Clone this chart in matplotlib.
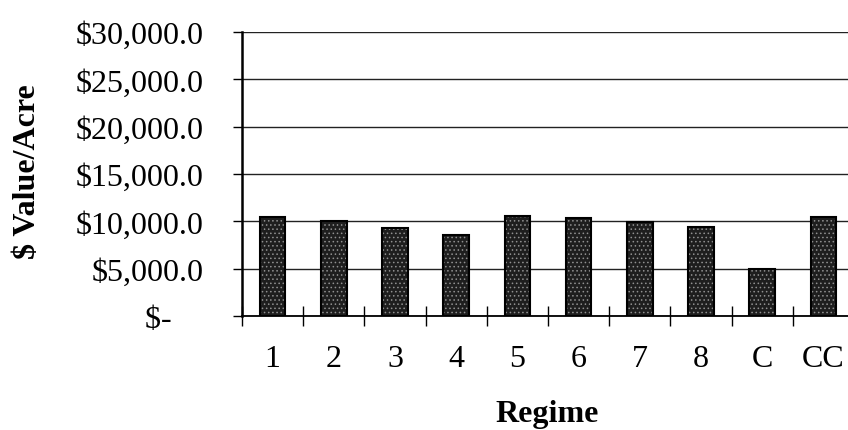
import matplotlib
matplotlib.use("Agg")
import matplotlib.pyplot as plt
import numpy as np

plt.rcParams['font.family'] = ['Liberation Serif', 'DejaVu Serif']
plt.rcParams['text.parse_math'] = False
plt.rcParams['hatch.linewidth'] = 0.6

# data
regimes = ["1", "2", "3", "4", "5", "6", "7", "8", "C", "CC"]
value_per_acre = [10450, 10000, 9300, 8530, 10600, 10350, 9950, 9400, 4930, 10500]
y_ticks = [0, 5000, 10000, 15000, 20000, 25000, 30000]
y_tick_labels = ["$-    ", "$5,000.0", "$10,000.0", "$15,000.0",
                 "$20,000.0", "$25,000.0", "$30,000.0"]

W, H = 848, 431
fig = plt.figure(figsize=(W / 100, H / 100), dpi=100)
# plot area runs past the right edge of the picture, as in the scan
ax = fig.add_axes([242 / W, (H - 317) / H, 612 / W, 284 / H])

x = np.arange(len(regimes))
# stippled fill, then black outline
ax.bar(x, value_per_acre, width=0.42, color="#1e1e1e", edgecolor="#909090",
       hatch="....", linewidth=0, zorder=3)
ax.bar(x, value_per_acre, width=0.42, fill=False, edgecolor="black",
       linewidth=1.5, zorder=4)

ax.set_xlim(-0.5, len(regimes) - 0.5)
ax.set_ylim(0, 30000)

ax.set_yticks(y_ticks)
ax.set_yticklabels(y_tick_labels)
ax.yaxis.grid(True, color="#222222", linewidth=1.0)
ax.set_axisbelow(True)

ax.set_xticks(x)
ax.set_xticklabels(regimes)
ax.set_xticks(np.arange(-0.5, len(regimes), 1.0), minor=True)
ax.tick_params(axis="x", which="major", length=0, pad=20, labelsize=23)
ax.tick_params(axis="x", which="minor", direction="inout", length=14, width=1.0)
ax.tick_params(axis="y", length=6.5, width=1.0, pad=21, labelsize=23)

for side in ("top", "right"):
    ax.spines[side].set_visible(False)
ax.spines["left"].set_linewidth(1.8)
ax.spines["bottom"].set_linewidth(1.3)

fig.text(27.5 / W, 1 - 171.5 / H, "$ Value/Acre", rotation=90, fontsize=23,
         fontweight="bold", ha="center", va="center")
fig.text(547.5 / W, 1 - 421.7 / H, "Regime", fontsize=23, fontweight="bold",
         ha="center", va="baseline")

fig.savefig("out.png", dpi=100)
